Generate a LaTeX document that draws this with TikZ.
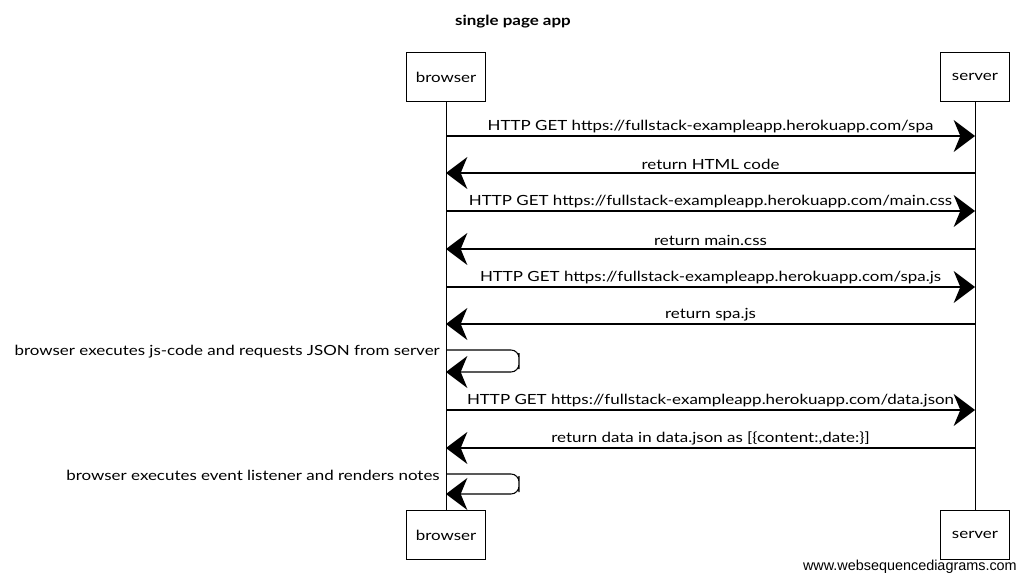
\documentclass[tikz,border=0pt]{standalone}
\usepackage{fontspec}
\usepackage{tikz}
\usetikzlibrary{arrows.meta}
\newfontfamily\handfont[FakeStretch=1.21]{Lato}
\newfontfamily\markfont{Liberation Sans}

\tikzset{
	actor/.style={draw, line width=0.8pt, minimum width=59pt, minimum height=37pt, font=\handfont\fontsize{10.5}{12}\selectfont},
	msg/.style={line width=0.8pt, -{Stealth[inset=5pt, length=16pt, width=24pt]}},
	msglabel/.style={above, inner sep=2pt, font=\handfont\fontsize{10.5}{12}\selectfont},
	note/.style={anchor=east, inner sep=0pt, font=\handfont\fontsize{10.5}{12}\selectfont}
}

\begin{document}
\begin{tikzpicture}[x=0.75pt, y=-0.75pt]
				\useasboundingbox (0,0) rectangle (1025,581);
				
				% Title
				\node[font=\handfont\bfseries\fontsize{10.5}{12}\selectfont] (title) at (513,22) {single page app};
				
				% Actors
				\node[actor] (browsertop) at (446,77) {browser};
				\node[actor, minimum width=52pt] (servertop) at (975,77) {server};
				\node[actor] (browserbot) at (446,535) {browser};
				\node[actor, minimum width=52pt] (serverbot) at (975,535) {server};
				
				% Lifelines
				\draw[line width=0.6pt] (browsertop.south) -- (browserbot.north);
				\draw[line width=0.6pt] (servertop.south) -- (serverbot.north);
				
				% Points on the lifelines
				\foreach \n/\y in {1/136, 2/173, 3/211, 4/249, 5/287, 6/324, 8/410, 9/448} {
					\coordinate (b\n) at (446,\y);
					\coordinate (s\n) at (975,\y);
				}
				
				% Messages
				\draw[msg] (b1) -- node[msglabel] {HTTP GET https://fullstack-exampleapp.herokuapp.com/spa} (s1);
				\draw[msg] (s2) -- node[msglabel] {return HTML code} (b2);
				\draw[msg] (b3) -- node[msglabel] {HTTP GET https://fullstack-exampleapp.herokuapp.com/main.css} (s3);
				\draw[msg] (s4) -- node[msglabel] {return main.css} (b4);
				\draw[msg] (b5) -- node[msglabel] {HTTP GET https://fullstack-exampleapp.herokuapp.com/spa.js} (s5);
				\draw[msg] (s6) -- node[msglabel] {return spa.js} (b6);
				
				% Self message 1
				\coordinate (loopa) at (446,350);
				\coordinate (loopb) at (446,372);
				\coordinate (loopr) at (519,361);
				\draw[msg, rounded corners=6pt] (loopa) -| (loopr) |- (loopb);
				\node[note] (notea) at (440,352) {browser executes js-code and requests JSON from server};
				
				\draw[msg] (b8) -- node[msglabel] {HTTP GET https://fullstack-exampleapp.herokuapp.com/data.json} (s8);
				\draw[msg] (s9) -- node[msglabel] {return data in data.json as [\{content:,date:\}]} (b9);
				
				% Self message 2
				\coordinate (loopc) at (446,474);
				\coordinate (loopd) at (446,494);
				\coordinate (loops) at (519,484);
				\draw[msg, rounded corners=6pt] (loopc) -| (loops) |- (loopd);
				\node[note] (noteb) at (440,475) {browser executes event listener and renders notes};
				
				% Watermark
				\node[font=\markfont\fontsize{10.8}{13}\selectfont, anchor=east, inner sep=0pt] (mark) at (1017,567) {www.websequencediagrams.com};
			\end{tikzpicture}
\end{document}
